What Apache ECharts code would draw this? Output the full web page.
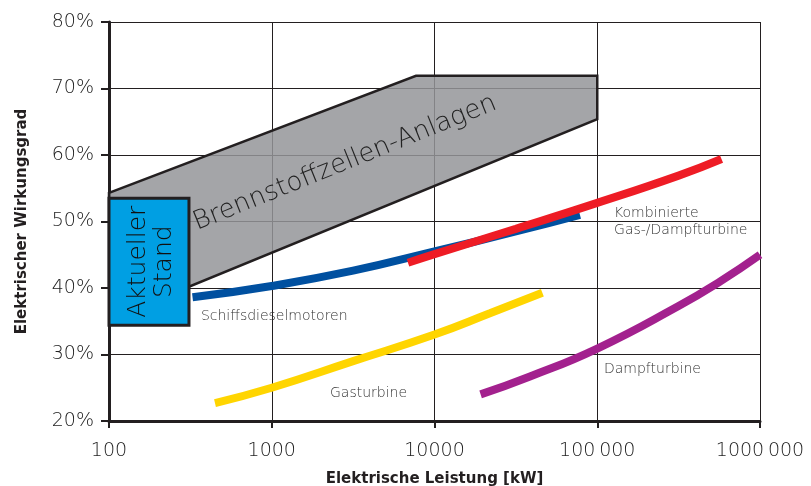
<!DOCTYPE html>
<html>
<head>
<meta charset="utf-8">
<script src="https://cdn.jsdelivr.net/npm/echarts@6/dist/echarts.min.js"></script>
<style>
  html, body { margin: 0; padding: 0; background: #fff; }
  #chart { width: 811px; height: 486px; }
</style>
</head>
<body>
<div id="chart"></div>
<script>
    'use strict';

    // [kW, %]
    const schiffsdiesel = [[326, 38.6], [1000, 40.3], [3162, 42.6], [10000, 45.5], [31600, 48.5], [78300, 51.0]];
    const kombiniert = [[6870, 43.8], [10000, 45.1], [31600, 48.9], [100000, 52.8], [316000, 56.9], [580000, 59.4]];
    const gasturbine = [[448, 22.7], [1000, 25.0], [3162, 29.0], [10000, 33.0], [21900, 36.2], [46000, 39.3]];
    const dampfturbine = [[19200, 24.0], [38600, 26.7], [100000, 30.9], [316000, 37.3], [570000, 41.0], [1000000, 45.0]];

    const brennstoffzellen = [[100, 54.3], [7700, 71.9], [100000, 71.9], [100000, 65.4], [310, 40.2], [100, 40.2]];
    const aktuellerStand = [[100, 34.4], [310, 53.5]];

    const curveLabels = [
        [367, 35.8, 'Schiffsdieselmotoren'],
        [126800, 49.9, 'Kombinierte\nGas-/Dampfturbine'],
        [2280, 24.1, 'Gasturbine'],
        [110000, 27.7, 'Dampfturbine']
    ];

    const xTickLabels = {100: '100', 1000: '1000', 10000: '10000', 100000: '100\u2009000', 1000000: '1000\u2009000'};

    const dark = '#231f20';
    const thinFont = '"DejaVu Sans"';

    const chart = echarts.init(document.getElementById('chart'), null, {renderer: 'canvas'});

    const lineSeries = function (name, data, color) {
        return {
            name: name,
            type: 'line',
            data: data,
            smooth: 0.5,
            symbol: 'none',
            lineStyle: {color: color, width: 8, cap: 'butt'},
            z: 5
        };
    };

    chart.setOption({
        animation: false,
        backgroundColor: '#ffffff',
        grid: {left: 109, right: 51, top: 22, bottom: 65, outerBoundsMode: 'none'},
        xAxis: {
            type: 'log',
            logBase: 10,
            min: 100,
            max: 1000000,
            name: 'Elektrische Leistung [kW]',
            nameLocation: 'middle',
            nameGap: 51,
            nameTextStyle: {fontFamily: thinFont, fontWeight: 'bold', fontSize: 15, color: dark},
            axisLine: {onZero: false, lineStyle: {color: dark, width: 3}},
            axisTick: {show: true, length: 7, lineStyle: {color: dark, width: 2}},
            minorTick: {show: false},
            axisLabel: {
                margin: 21,
                fontFamily: thinFont,
                fontWeight: 200,
                fontSize: 19,
                color: '#222',
                formatter: function (v) { return xTickLabels[Math.round(v)] || ''; }
            },
            splitLine: {show: true, lineStyle: {color: dark, width: 1}}
        },
        yAxis: {
            type: 'value',
            min: 20,
            max: 80,
            interval: 10,
            name: 'Elektrischer Wirkungsgrad',
            nameLocation: 'middle',
            nameGap: 79,
            nameRotate: 90,
            nameTextStyle: {fontFamily: thinFont, fontWeight: 'bold', fontSize: 15, color: dark},
            axisLine: {show: true, lineStyle: {color: dark, width: 3}},
            axisTick: {show: true, length: 8, lineStyle: {color: dark, width: 2}},
            axisLabel: {
                margin: 15,
                fontFamily: thinFont,
                fontWeight: 200,
                fontSize: 19,
                color: '#222',
                formatter: '{value}%'
            },
            splitLine: {show: true, lineStyle: {color: dark, width: 1}}
        },
        series: [
            {
                name: 'Brennstoffzellen-Anlagen',
                type: 'custom',
                data: brennstoffzellen,
                z: 3,
                renderItem: function (params, api) {
                    if (params.dataIndex !== 0)
                        return null;
                    const pts = brennstoffzellen.map(function (p) { return api.coord(p); });
                    const c = api.coord([2820, 58.8]);
                    return {
                        type: 'group',
                        children: [{
                            type: 'polygon',
                            shape: {points: pts},
                            style: {fill: 'rgba(148,149,153,0.85)', stroke: dark, lineWidth: 2.5, lineJoin: 'miter'}
                        }, {
                            type: 'text',
                            x: c[0],
                            y: c[1],
                            rotation: 22 * Math.PI / 180,
                            style: {
                                text: 'Brennstoffzellen-Anlagen',
                                font: '200 26px ' + thinFont,
                                fill: '#222',
                                align: 'center',
                                verticalAlign: 'middle'
                            }
                        }]
                    };
                }
            },
            {
                name: 'Aktueller Stand',
                type: 'custom',
                data: [aktuellerStand[0]],
                z: 4,
                renderItem: function (params, api) {
                    const p0 = api.coord(aktuellerStand[0]);
                    const p1 = api.coord(aktuellerStand[1]);
                    const cx = (p0[0] + p1[0]) / 2 + 3;
                    const cy = (p0[1] + p1[1]) / 2;
                    return {
                        type: 'group',
                        children: [{
                            type: 'rect',
                            shape: {x: p0[0], y: p1[1], width: p1[0] - p0[0], height: p0[1] - p1[1]},
                            style: {fill: '#009fe3', stroke: dark, lineWidth: 3}
                        }, {
                            type: 'text',
                            x: cx,
                            y: cy,
                            rotation: Math.PI / 2,
                            style: {
                                text: 'Aktueller\nStand',
                                font: '200 25px ' + thinFont,
                                lineHeight: 26,
                                fill: '#111',
                                align: 'center',
                                verticalAlign: 'middle'
                            }
                        }]
                    };
                }
            },
            lineSeries('Schiffsdieselmotoren', schiffsdiesel, '#0050a0'),
            lineSeries('Kombinierte Gas-/Dampfturbine', kombiniert, '#ee1c25'),
            lineSeries('Gasturbine', gasturbine, '#ffd500'),
            lineSeries('Dampfturbine', dampfturbine, '#a3218e'),
            {
                name: 'labels',
                type: 'custom',
                data: curveLabels,
                z: 6,
                renderItem: function (params, api) {
                    const item = curveLabels[params.dataIndex];
                    const p = api.coord([item[0], item[1]]);
                    return {
                        type: 'text',
                        x: p[0],
                        y: p[1],
                        style: {
                            text: item[2],
                            font: '200 14px ' + thinFont,
                            lineHeight: 17,
                            fill: '#333',
                            align: 'left',
                            verticalAlign: 'middle'
                        }
                    };
                }
            }
        ]
    });
</script>
</body>
</html>
